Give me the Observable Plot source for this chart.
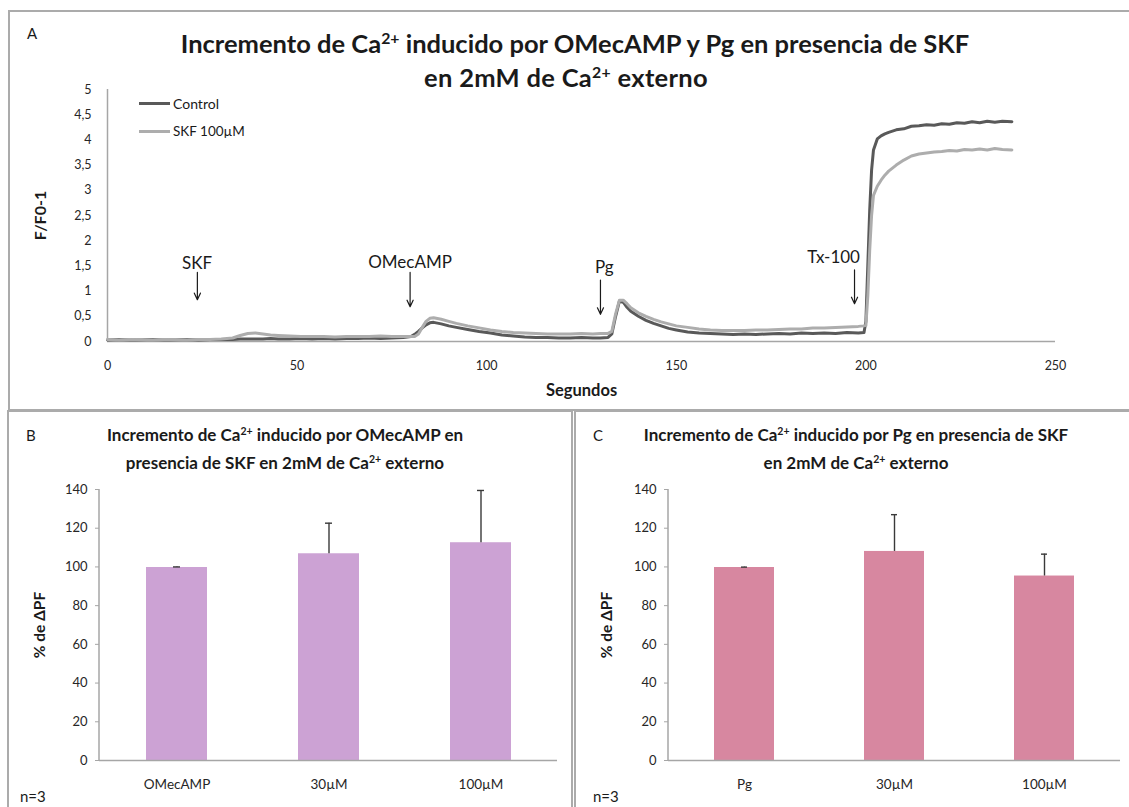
<!DOCTYPE html>
<html>
<head>
<meta charset="utf-8">
<script src="https://cdn.jsdelivr.net/npm/d3@7"></script>
<script src="https://cdn.jsdelivr.net/npm/@observablehq/plot@0.6"></script>
<style>
  body { margin: 0; background: #fff; font-family: Lato, "Open Sans", sans-serif; color: #1a1a1a; }
  #fig { position: relative; width: 1129px; height: 807px; overflow: hidden; background: #fff; }
  .panel { position: absolute; border: 2px solid #ababab; box-sizing: border-box; }
  .abs { position: absolute; white-space: nowrap; }
  .sup { font-size: 0.62em; position: relative; top: -0.55em; }
  .ttl { font-weight: bold; text-align: center; }
  .key { position: absolute; height: 3px; width: 31px; }
  .chart { position: absolute; }
</style>
</head>
<body>
<div id="fig">
  <div class="panel" style="left:8px; top:10px; width:1130px; height:401px;"></div>
  <div class="panel" style="left:7px; top:410px; width:566px; height:410px;"></div>
  <div class="panel" style="left:574px; top:410px; width:570px; height:410px;"></div>

  <div class="abs" style="left:27px; top:24px; font-size:15px;">A</div>
  <div class="abs ttl" style="left:0; width:1150px; top:28px; font-size:25.5px; line-height:31px;">
    Incremento de Ca<span class="sup">2+</span> inducido por OMecAMP y Pg en presencia de SKF<br>
    <span style="position:relative; left:-9px; letter-spacing:0.3px;">en 2mM de Ca<span class="sup">2+</span> externo</span>
  </div>

  <div class="abs" style="left:26px; top:426px; font-size:15px;">B</div>
  <div class="abs ttl" style="left:0; width:570px; top:422px; font-size:17px; line-height:25px;">
    Incremento de Ca<span class="sup">2+</span> inducido por OMecAMP en<br>
    presencia de SKF en 2mM de Ca<span class="sup">2+</span> externo
  </div>

  <div class="abs" style="left:593px; top:426px; font-size:15px;">C</div>
  <div class="abs ttl" style="left:575px; width:562px; top:422px; font-size:17px; line-height:25px;">
    Incremento de Ca<span class="sup">2+</span> inducido por Pg en presencia de SKF<br>
    en 2mM de Ca<span class="sup">2+</span> externo
  </div>

  <div class="abs" style="left:20px; top:787px; font-size:15px;">n=3</div>
  <div class="abs" style="left:593px; top:787px; font-size:15px;">n=3</div>

  <div id="chartA" class="chart" style="left:8px; top:80px;"></div>
  <div id="chartB" class="chart" style="left:7px; top:480px;"></div>
  <div id="chartC" class="chart" style="left:575px; top:480px;"></div>

  <div class="key" style="left:139px; top:102px; background:#595959;"></div>
  <div class="abs" style="left:173px; top:95px; font-size:14px;">Control</div>
  <div class="key" style="left:139px; top:130px; background:#adadad;"></div>
  <div class="abs" style="left:173px; top:123px; font-size:13.5px;">SKF 100µM</div>
</div>

<script>
// ---- Panel A: fluorescence trace (F/F0-1) over time, seconds ----
const sec = [
  0, 3, 6, 9, 12, 15, 18, 21, 24, 27, 30, 33,
  35, 37, 39, 41, 43, 45, 48, 51, 54, 57, 60, 63,
  66, 69, 72, 75, 78, 80, 81, 82, 83, 84, 85, 86,
  88, 90, 92, 95, 98, 101, 104, 107, 110, 113, 116, 119,
  122, 125, 128, 130, 132, 133, 134, 135, 136, 137, 138, 140,
  142, 144, 146, 148, 150, 153, 156, 159, 162, 165, 168, 171,
  174, 177, 180, 183, 186, 189, 192, 195, 198, 199.5, 200, 200.5,
  201, 201.5, 202, 203, 204, 205, 206, 208, 210, 212, 214, 216,
  218, 220, 222, 224, 226, 228, 230, 232, 234, 236, 238.5
];
const control = [
  0.03, 0.04, 0.03, 0.03, 0.04, 0.03, 0.03, 0.04, 0.03, 0.04, 0.04, 0.04,
  0.05, 0.05, 0.05, 0.05, 0.06, 0.05, 0.05, 0.06, 0.05, 0.06, 0.05, 0.06,
  0.06, 0.07, 0.06, 0.07, 0.08, 0.10, 0.14, 0.20, 0.27, 0.33, 0.37, 0.38,
  0.35, 0.31, 0.28, 0.24, 0.20, 0.17, 0.13, 0.11, 0.09, 0.08, 0.08, 0.07,
  0.07, 0.08, 0.07, 0.07, 0.08, 0.15, 0.50, 0.80, 0.78, 0.68, 0.60, 0.50,
  0.42, 0.36, 0.31, 0.26, 0.23, 0.19, 0.17, 0.16, 0.15, 0.14, 0.15, 0.14,
  0.15, 0.16, 0.15, 0.17, 0.16, 0.17, 0.16, 0.18, 0.17, 0.18, 0.40, 1.50,
  2.60, 3.40, 3.80, 4.02, 4.08, 4.12, 4.15, 4.20, 4.22, 4.27, 4.28, 4.30,
  4.29, 4.32, 4.31, 4.34, 4.33, 4.36, 4.34, 4.37, 4.35, 4.37, 4.36
];
const skf100 = [
  0.04, 0.03, 0.04, 0.03, 0.03, 0.04, 0.03, 0.03, 0.04, 0.04, 0.05, 0.07,
  0.12, 0.16, 0.17, 0.15, 0.13, 0.12, 0.11, 0.10, 0.10, 0.10, 0.09, 0.10,
  0.10, 0.10, 0.11, 0.10, 0.10, 0.10, 0.10, 0.15, 0.28, 0.40, 0.46, 0.47,
  0.44, 0.40, 0.36, 0.31, 0.27, 0.23, 0.20, 0.18, 0.17, 0.16, 0.15, 0.15,
  0.15, 0.16, 0.15, 0.16, 0.16, 0.20, 0.55, 0.82, 0.82, 0.75, 0.67, 0.57,
  0.50, 0.44, 0.39, 0.35, 0.31, 0.28, 0.25, 0.23, 0.22, 0.22, 0.22, 0.23,
  0.23, 0.24, 0.25, 0.25, 0.27, 0.27, 0.28, 0.29, 0.30, 0.31, 0.32, 0.90,
  1.80, 2.50, 2.90, 3.08, 3.20, 3.30, 3.38, 3.50, 3.60, 3.68, 3.72, 3.74,
  3.76, 3.77, 3.79, 3.78, 3.81, 3.80, 3.82, 3.80, 3.83, 3.81, 3.80
];
const xTicksA = [0, 50, 100, 150, 200, 250];
const yTicksA = [0, 0.5, 1, 1.5, 2, 2.5, 3, 3.5, 4, 4.5, 5];

// additions during the recording: time of addition, label, and arrow span (F/F0-1 units)
const additions = [
  {t: 23.7,  label: "SKF",     labelT: 23.6,  labelY: 1.55, from: 1.37, to: 0.83},
  {t: 79.8,  label: "OMecAMP", labelT: 79.8,  labelY: 1.57, from: 1.37, to: 0.69},
  {t: 130.0, label: "Pg",      labelT: 131.0, labelY: 1.47, from: 1.22, to: 0.54},
  {t: 197.0, label: "Tx-100",  labelT: 191.5, labelY: 1.67, from: 1.42, to: 0.75}
];

// ---- Panels B and C: % of ΔPF, mean + error ----
const catsB = ["OMecAMP", "30µM", "100µM"];
const meanB = [99.7, 106.8, 112.5];
const errB  = [0.3, 15.8, 27.0];
const catsC = ["Pg", "30µM", "100µM"];
const meanC = [99.7, 108.0, 95.3];
const errC  = [0.2, 19.0, 11.3];
const yTicksBC = [0, 20, 40, 60, 80, 100, 120, 140];

const comma = d => String(d).replace(".", ",");
const baseStyle = {fontFamily: "Lato, 'Open Sans', sans-serif", fontSize: "12px", color: "#262626", background: "transparent", overflow: "visible"};

// vertical axis line along the frame's left edge
function leftAxisLine(stroke) {
  return (index, scales, values, dims) =>
    d3.create("svg:line")
      .attr("x1", dims.marginLeft).attr("x2", dims.marginLeft)
      .attr("y1", dims.marginTop).attr("y2", dims.height - dims.marginBottom)
      .attr("stroke", stroke).attr("stroke-width", 1.5)
      .node();
}

const rowsCtrl = sec.map((t, i) => ({t, v: control[i]}));
const rowsSkf = sec.map((t, i) => ({t, v: skf100[i]}));

const chartA = Plot.plot({
  width: 1121, height: 329,
  marginLeft: 99, marginRight: 74, marginTop: 9, marginBottom: 68,
  style: baseStyle,
  x: {domain: [0, 250], axis: null},
  y: {domain: [0, 5], axis: null},
  marks: [
    Plot.ruleY([0], {stroke: "#a6a6a6", strokeWidth: 1.5}),
    Plot.ruleX([0], {stroke: "#a6a6a6", strokeWidth: 1.5}),
    Plot.line(rowsCtrl, {x: "t", y: "v", stroke: "#595959", strokeWidth: 3, strokeLinejoin: "round"}),
    Plot.line(rowsSkf, {x: "t", y: "v", stroke: "#adadad", strokeWidth: 3, strokeLinejoin: "round"}),
    Plot.arrow(additions, {x: "t", y1: "from", y2: "to", stroke: "#1a1a1a", strokeWidth: 1.2, headLength: 9, headAngle: 50}),
    Plot.text(additions, {x: "labelT", y: "labelY", text: "label", fontSize: 17, fill: "#1a1a1a"}),
    Plot.axisX({ticks: xTicksA, tickSize: 0, tickPadding: 20, fontSize: 12.5, label: null}),
    Plot.axisY({ticks: yTicksA, tickSize: 0, tickPadding: 16, tickFormat: comma, fontSize: 12.5, label: null}),
    Plot.text(["Segundos"], {frameAnchor: "bottom", lineAnchor: "middle", dy: 49, fontWeight: "bold", fontSize: 16.5, fill: "#1a1a1a"}),
    Plot.text(["F/F0-1"], {frameAnchor: "left", textAnchor: "middle", lineAnchor: "middle", rotate: -90, dx: -67, fontWeight: "bold", fontSize: 16, fill: "#1a1a1a"})
  ]
});
document.getElementById("chartA").append(chartA);

function barPanel(cats, means, errs, fill, width, marginLeft, marginRight, labelDx) {
  const rows = cats.map((c, i) => ({cat: c, mean: means[i], top: means[i] + errs[i]}));
  return Plot.plot({
    width, height: 327,
    marginLeft, marginRight, marginTop: 9, marginBottom: 47,
    style: baseStyle,
    x: {domain: cats, paddingInner: 0.6, paddingOuter: 0.3, axis: null},
    y: {domain: [0, 140], axis: null},
    marks: [
      Plot.barY(rows, {x: "cat", y: "mean", fill}),
      Plot.ruleX(rows, {x: "cat", y1: "mean", y2: "top", stroke: "#3a3a3a", strokeWidth: 1.4}),
      Plot.tickY(rows, {x: "cat", y: "top", stroke: "#3a3a3a", strokeWidth: 1.4, insetLeft: 27, insetRight: 27}),
      Plot.ruleY([0], {stroke: "#a6a6a6", strokeWidth: 1.5}),
      leftAxisLine("#a6a6a6"),
      Plot.axisY({ticks: yTicksBC, tickSize: 4, tickPadding: 8, stroke: "#a6a6a6", fontSize: 13, label: null}),
      Plot.axisX({tickSize: 0, tickPadding: 19, fontSize: 13.5, label: null}),
      Plot.text(["% de ΔPF"], {frameAnchor: "left", textAnchor: "middle", lineAnchor: "middle", rotate: -90, dx: labelDx, fontWeight: "bold", fontSize: 15.5, fill: "#1a1a1a"})
    ]
  });
}

document.getElementById("chartB").append(barPanel(catsB, meanB, errB, "#cca2d4", 566, 92, 16, -59));
document.getElementById("chartC").append(barPanel(catsC, meanC, errC, "#d787a0", 554, 93, 9, -61));
</script>
</body>
</html>
